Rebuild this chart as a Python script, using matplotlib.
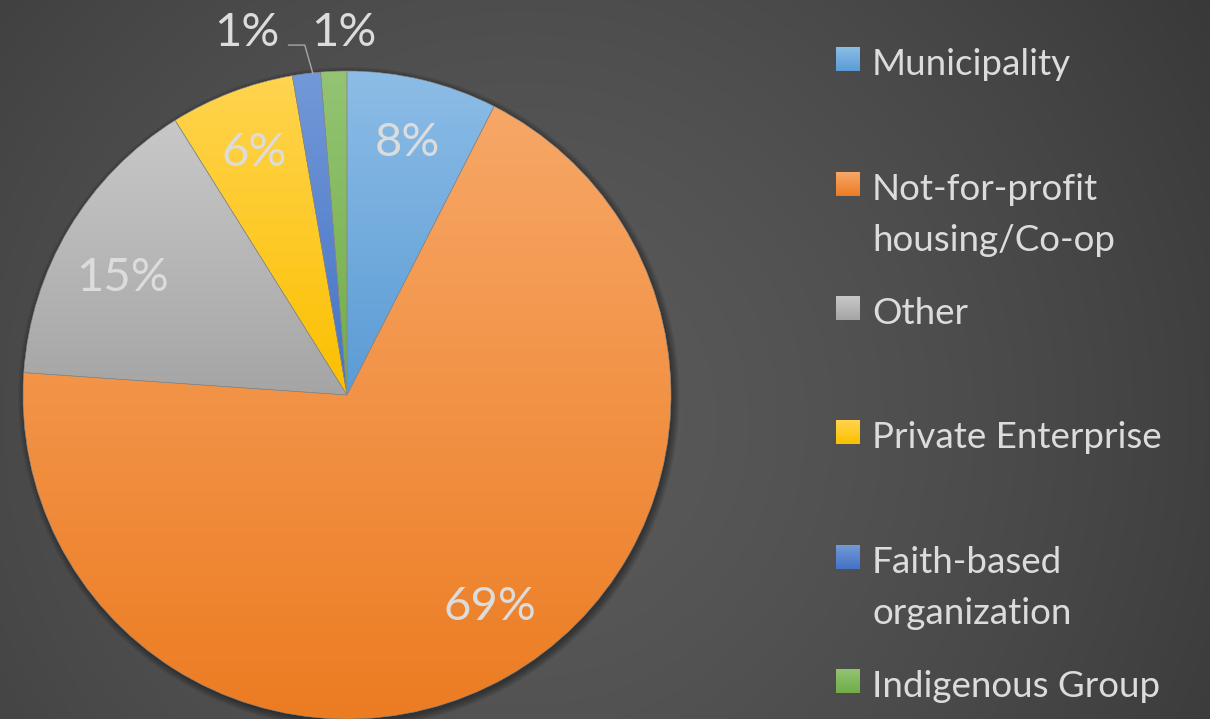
import textwrap
import numpy as np
import matplotlib
matplotlib.use("Agg")
import matplotlib.pyplot as plt
from matplotlib.colors import to_rgb
from matplotlib.patches import Circle

# data (shares in %), clockwise from 12 o'clock
categories = ['Municipality', 'Not-for-profit housing/Co-op', 'Other',
              'Private Enterprise', 'Faith-based organization', 'Indigenous Group']
shares = [7.5, 68.6, 15.0, 6.2, 1.4, 1.3]
# gradient colours for each slice (top tint, base)
tints = ['#8cbde6', '#f7a767', '#c8c8c8', '#ffd44f', '#7299d8', '#94c474']
bases = ['#5b9bd5', '#ec7c22', '#a5a5a5', '#fcc000', '#4472c4', '#70ad47']

W, H = 1210, 719
plt.rcParams['font.family'] = ['Lato', 'DejaVu Sans']
txt_color = '#dcdcdc'

fig = plt.figure(figsize=(W / 100, H / 100), dpi=100)

# background: soft radial gradient
bg = fig.add_axes([0, 0, 1, 1])
yy, xx = np.mgrid[0:H, 0:W]
d = np.hypot(xx - 520, yy - 420)
v = (90 - 28 * (d / 720) ** 1.5) / 255
bg.imshow(np.dstack([v, v, v]), aspect='auto', extent=[0, W, H, 0])
bg.set_axis_off()

# pie axes: centre at (347, 395) px, radius 324 px
R, cx, cy = 324, 347, 395
span = 1.2 * R
ax = fig.add_axes([(cx - span) / W, (H - cy - span) / H, 2 * span / W, 2 * span / H])
ax.set_aspect('equal')
ax.set_axis_off()

# soft shadow
for i in range(6):
    ax.add_patch(Circle((0.006, -0.008), 1 + 0.004 * i, color='black', alpha=0.07, zorder=1, lw=0))

wedges, texts, autotexts = ax.pie(
    shares, startangle=90, counterclock=False, radius=1,
    autopct='%.0f%%', pctdistance=0.8,
    wedgeprops=dict(facecolor='none', edgecolor='#8a8a8a', linewidth=0.4),
    textprops=dict(color=txt_color, fontsize=34))

for w, t, b in zip(wedges, tints, bases):
    w.set_zorder(3)
    ext = w.get_path().transformed(w.get_patch_transform()).get_extents()
    c0, c1 = np.array(to_rgb(t)), np.array(to_rgb(b))
    f = np.linspace(0, 1, 256)[:, None, None]
    grad = c0 * (1 - f) + c1 * f
    im = ax.imshow(grad, extent=[ext.x0, ext.x1, ext.y0, ext.y1], origin='upper',
                   aspect='auto', zorder=2, interpolation='bilinear')
    im.set_clip_path(w)

for t in autotexts:
    t.set_zorder(5)

# nudge the big labels a little outward/round, as in the original
ang_o = np.deg2rad((wedges[2].theta1 + wedges[2].theta2) / 2 + 3.5)
autotexts[2].set_position((0.78 * np.cos(ang_o), 0.78 * np.sin(ang_o)))
ang_n = np.deg2rad((wedges[1].theta1 + wedges[1].theta2) / 2 + 4.5)
autotexts[1].set_position((0.79 * np.cos(ang_n), 0.79 * np.sin(ang_n)))

# the two small slices get their labels outside the pie
ang_f = np.deg2rad((wedges[4].theta1 + wedges[4].theta2) / 2)
ex, ey = np.cos(ang_f), np.sin(ang_f)
autotexts[4].set_position((ex - 0.185, 1.117))
ax.plot([ex + 0.02, ex - 0.005, ex - 0.055], [ey, 1.08, 1.08], color='#a6a6a6', lw=1, zorder=4)

ang_i = np.deg2rad((wedges[5].theta1 + wedges[5].theta2) / 2)
autotexts[5].set_position((np.cos(ang_i) + 0.03, 1.117))

ax.set_xlim(-1.2, 1.2)
ax.set_ylim(-1.2, 1.2)

# legend drawn by hand: square + wrapped label
row_top = [47, 172, 296, 420, 545, 669]
for i, (name, b, t) in enumerate(zip(categories, bases, tints)):
    top = row_top[i]
    sq = fig.add_axes([836 / W, 1 - (top + 24) / H, 24 / W, 24 / H])
    c0, c1 = np.array(to_rgb(t)), np.array(to_rgb(b))
    f = np.linspace(0, 1, 64)[:, None, None]
    sq.imshow(c0 * (1 - f) + c1 * f, aspect='auto')
    sq.set_axis_off()
    lines = textwrap.wrap(name, width=18, break_on_hyphens=False)
    for j, line in enumerate(lines):
        base_y = top + 28 + 51 * j
        fig.text(872 / W, 1 - base_y / H, line, color=txt_color, fontsize=26.5,
                 va='baseline', ha='left')

fig.savefig('out.png', dpi=100)
